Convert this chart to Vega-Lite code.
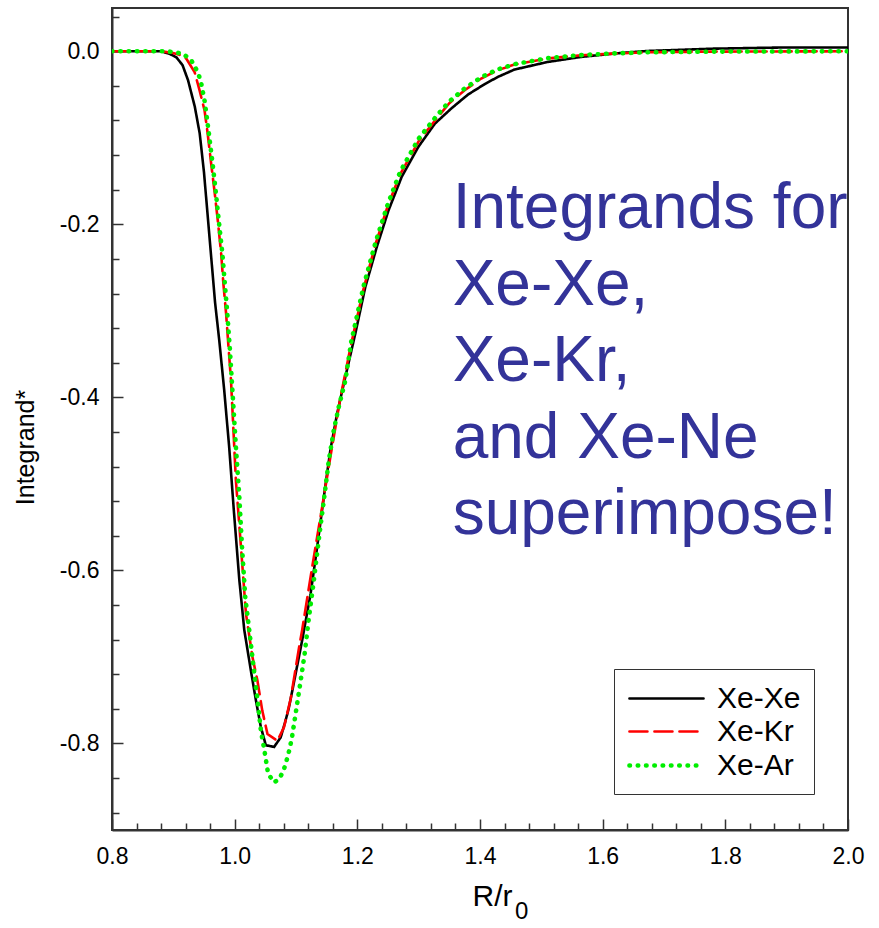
{
  "$schema": "https://vega.github.io/schema/vega-lite/v6.json",
  "width": 736,
  "height": 822,
  "autosize": {"type": "none"},
  "padding": {"left": 112, "top": 8, "right": 31, "bottom": 98},
  "background": "white",
  "config": {
    "font": "Liberation Sans",
    "view": {"stroke": "#333333", "strokeWidth": 2},
    "line": {"strokeCap": "round"},
    "axis": {"grid": false, "domainColor": "#333333", "domainWidth": 2, "tickColor": "#333333", "tickWidth": 1.5, "labelColor": "black", "titleColor": "black", "labelFont": "Liberation Sans", "titleFont": "Liberation Sans", "titleFontWeight": "normal", "labelFlush": false, "labelOverlap": false}
  },
  "datasets": {
    "curves": [
      {"s": "Xe-Xe", "x": 0.80, "y": 0},
      {"s": "Xe-Xe", "x": 0.85, "y": 0},
      {"s": "Xe-Xe", "x": 0.88, "y": 0},
      {"s": "Xe-Xe", "x": 0.894, "y": -0.003},
      {"s": "Xe-Xe", "x": 0.905, "y": -0.007},
      {"s": "Xe-Xe", "x": 0.915, "y": -0.016},
      {"s": "Xe-Xe", "x": 0.924, "y": -0.0335},
      {"s": "Xe-Xe", "x": 0.935, "y": -0.064},
      {"s": "Xe-Xe", "x": 0.943, "y": -0.095},
      {"s": "Xe-Xe", "x": 0.950, "y": -0.140},
      {"s": "Xe-Xe", "x": 0.956, "y": -0.190},
      {"s": "Xe-Xe", "x": 0.962, "y": -0.240},
      {"s": "Xe-Xe", "x": 0.968, "y": -0.290},
      {"s": "Xe-Xe", "x": 0.975, "y": -0.335},
      {"s": "Xe-Xe", "x": 0.983, "y": -0.392},
      {"s": "Xe-Xe", "x": 0.991, "y": -0.457},
      {"s": "Xe-Xe", "x": 0.999, "y": -0.534},
      {"s": "Xe-Xe", "x": 1.0076, "y": -0.611},
      {"s": "Xe-Xe", "x": 1.0157, "y": -0.669},
      {"s": "Xe-Xe", "x": 1.0265, "y": -0.716},
      {"s": "Xe-Xe", "x": 1.0346, "y": -0.750},
      {"s": "Xe-Xe", "x": 1.0427, "y": -0.781},
      {"s": "Xe-Xe", "x": 1.0508, "y": -0.802},
      {"s": "Xe-Xe", "x": 1.0643, "y": -0.804},
      {"s": "Xe-Xe", "x": 1.075, "y": -0.793},
      {"s": "Xe-Xe", "x": 1.082, "y": -0.776},
      {"s": "Xe-Xe", "x": 1.088, "y": -0.760},
      {"s": "Xe-Xe", "x": 1.094, "y": -0.739},
      {"s": "Xe-Xe", "x": 1.110, "y": -0.681},
      {"s": "Xe-Xe", "x": 1.1238, "y": -0.627},
      {"s": "Xe-Xe", "x": 1.1345, "y": -0.573},
      {"s": "Xe-Xe", "x": 1.1454, "y": -0.515},
      {"s": "Xe-Xe", "x": 1.156, "y": -0.461},
      {"s": "Xe-Xe", "x": 1.167, "y": -0.419},
      {"s": "Xe-Xe", "x": 1.178, "y": -0.384},
      {"s": "Xe-Xe", "x": 1.1968, "y": -0.326},
      {"s": "Xe-Xe", "x": 1.213, "y": -0.2725},
      {"s": "Xe-Xe", "x": 1.2318, "y": -0.226},
      {"s": "Xe-Xe", "x": 1.2508, "y": -0.184},
      {"s": "Xe-Xe", "x": 1.2724, "y": -0.145},
      {"s": "Xe-Xe", "x": 1.2994, "y": -0.1106},
      {"s": "Xe-Xe", "x": 1.3265, "y": -0.0836},
      {"s": "Xe-Xe", "x": 1.3534, "y": -0.066},
      {"s": "Xe-Xe", "x": 1.3805, "y": -0.050},
      {"s": "Xe-Xe", "x": 1.4076, "y": -0.038},
      {"s": "Xe-Xe", "x": 1.429, "y": -0.0297},
      {"s": "Xe-Xe", "x": 1.456, "y": -0.0212},
      {"s": "Xe-Xe", "x": 1.510, "y": -0.0124},
      {"s": "Xe-Xe", "x": 1.564, "y": -0.0066},
      {"s": "Xe-Xe", "x": 1.618, "y": -0.0027},
      {"s": "Xe-Xe", "x": 1.672, "y": 0.0003},
      {"s": "Xe-Xe", "x": 1.7805, "y": 0.003},
      {"s": "Xe-Xe", "x": 1.8886, "y": 0.0043},
      {"s": "Xe-Xe", "x": 2.0, "y": 0.0043},

      {"s": "Xe-Kr", "x": 0.80, "y": 0},
      {"s": "Xe-Kr", "x": 0.88, "y": 0},
      {"s": "Xe-Kr", "x": 0.8994, "y": -0.002},
      {"s": "Xe-Kr", "x": 0.910, "y": -0.004},
      {"s": "Xe-Kr", "x": 0.921, "y": -0.0084},
      {"s": "Xe-Kr", "x": 0.9346, "y": -0.0239},
      {"s": "Xe-Kr", "x": 0.9427, "y": -0.045},
      {"s": "Xe-Kr", "x": 0.9508, "y": -0.068},
      {"s": "Xe-Kr", "x": 0.956, "y": -0.095},
      {"s": "Xe-Kr", "x": 0.9617, "y": -0.130},
      {"s": "Xe-Kr", "x": 0.967, "y": -0.161},
      {"s": "Xe-Kr", "x": 0.9724, "y": -0.195},
      {"s": "Xe-Kr", "x": 0.978, "y": -0.234},
      {"s": "Xe-Kr", "x": 0.9816, "y": -0.2686},
      {"s": "Xe-Kr", "x": 0.986, "y": -0.303},
      {"s": "Xe-Kr", "x": 0.990, "y": -0.342},
      {"s": "Xe-Kr", "x": 0.994, "y": -0.380},
      {"s": "Xe-Kr", "x": 0.9967, "y": -0.419},
      {"s": "Xe-Kr", "x": 1.002, "y": -0.496},
      {"s": "Xe-Kr", "x": 1.0103, "y": -0.573},
      {"s": "Xe-Kr", "x": 1.0184, "y": -0.650},
      {"s": "Xe-Kr", "x": 1.029, "y": -0.700},
      {"s": "Xe-Kr", "x": 1.037, "y": -0.727},
      {"s": "Xe-Kr", "x": 1.045, "y": -0.762},
      {"s": "Xe-Kr", "x": 1.0535, "y": -0.789},
      {"s": "Xe-Kr", "x": 1.0697, "y": -0.797},
      {"s": "Xe-Kr", "x": 1.0805, "y": -0.781},
      {"s": "Xe-Kr", "x": 1.0914, "y": -0.748},
      {"s": "Xe-Kr", "x": 1.105, "y": -0.689},
      {"s": "Xe-Kr", "x": 1.110, "y": -0.669},
      {"s": "Xe-Kr", "x": 1.1264, "y": -0.596},
      {"s": "Xe-Kr", "x": 1.1426, "y": -0.527},
      {"s": "Xe-Kr", "x": 1.156, "y": -0.469},
      {"s": "Xe-Kr", "x": 1.1725, "y": -0.400},
      {"s": "Xe-Kr", "x": 1.19, "y": -0.338},
      {"s": "Xe-Kr", "x": 1.21, "y": -0.275},
      {"s": "Xe-Kr", "x": 1.23, "y": -0.222},
      {"s": "Xe-Kr", "x": 1.25, "y": -0.178},
      {"s": "Xe-Kr", "x": 1.27, "y": -0.142},
      {"s": "Xe-Kr", "x": 1.30, "y": -0.104},
      {"s": "Xe-Kr", "x": 1.33, "y": -0.077},
      {"s": "Xe-Kr", "x": 1.35, "y": -0.060},
      {"s": "Xe-Kr", "x": 1.375, "y": -0.0451},
      {"s": "Xe-Kr", "x": 1.402, "y": -0.0315},
      {"s": "Xe-Kr", "x": 1.429, "y": -0.0219},
      {"s": "Xe-Kr", "x": 1.456, "y": -0.0154},
      {"s": "Xe-Kr", "x": 1.510, "y": -0.0084},
      {"s": "Xe-Kr", "x": 1.564, "y": -0.0046},
      {"s": "Xe-Kr", "x": 1.618, "y": -0.0027},
      {"s": "Xe-Kr", "x": 1.672, "y": -0.0012},
      {"s": "Xe-Kr", "x": 1.78, "y": -0.0004},
      {"s": "Xe-Kr", "x": 2.0, "y": 0},

      {"s": "Xe-Ar", "x": 0.80, "y": 0},
      {"s": "Xe-Ar", "x": 0.89, "y": 0},
      {"s": "Xe-Ar", "x": 0.9156, "y": -0.0027},
      {"s": "Xe-Ar", "x": 0.9292, "y": -0.0104},
      {"s": "Xe-Ar", "x": 0.936, "y": -0.0188},
      {"s": "Xe-Ar", "x": 0.9416, "y": -0.0277},
      {"s": "Xe-Ar", "x": 0.9455, "y": -0.0373},
      {"s": "Xe-Ar", "x": 0.9508, "y": -0.0566},
      {"s": "Xe-Ar", "x": 0.9545, "y": -0.076},
      {"s": "Xe-Ar", "x": 0.958, "y": -0.095},
      {"s": "Xe-Ar", "x": 0.964, "y": -0.130},
      {"s": "Xe-Ar", "x": 0.969, "y": -0.161},
      {"s": "Xe-Ar", "x": 0.974, "y": -0.195},
      {"s": "Xe-Ar", "x": 0.980, "y": -0.234},
      {"s": "Xe-Ar", "x": 0.984, "y": -0.269},
      {"s": "Xe-Ar", "x": 0.988, "y": -0.303},
      {"s": "Xe-Ar", "x": 0.992, "y": -0.342},
      {"s": "Xe-Ar", "x": 0.9967, "y": -0.396},
      {"s": "Xe-Ar", "x": 1.002, "y": -0.457},
      {"s": "Xe-Ar", "x": 1.0076, "y": -0.515},
      {"s": "Xe-Ar", "x": 1.012, "y": -0.573},
      {"s": "Xe-Ar", "x": 1.0173, "y": -0.631},
      {"s": "Xe-Ar", "x": 1.0238, "y": -0.669},
      {"s": "Xe-Ar", "x": 1.032, "y": -0.719},
      {"s": "Xe-Ar", "x": 1.0373, "y": -0.750},
      {"s": "Xe-Ar", "x": 1.0427, "y": -0.785},
      {"s": "Xe-Ar", "x": 1.048, "y": -0.806},
      {"s": "Xe-Ar", "x": 1.0546, "y": -0.835},
      {"s": "Xe-Ar", "x": 1.0643, "y": -0.845},
      {"s": "Xe-Ar", "x": 1.0724, "y": -0.841},
      {"s": "Xe-Ar", "x": 1.0794, "y": -0.832},
      {"s": "Xe-Ar", "x": 1.087, "y": -0.814},
      {"s": "Xe-Ar", "x": 1.093, "y": -0.795},
      {"s": "Xe-Ar", "x": 1.098, "y": -0.772},
      {"s": "Xe-Ar", "x": 1.106, "y": -0.735},
      {"s": "Xe-Ar", "x": 1.114, "y": -0.697},
      {"s": "Xe-Ar", "x": 1.121, "y": -0.655},
      {"s": "Xe-Ar", "x": 1.129, "y": -0.612},
      {"s": "Xe-Ar", "x": 1.137, "y": -0.565},
      {"s": "Xe-Ar", "x": 1.1454, "y": -0.519},
      {"s": "Xe-Ar", "x": 1.1535, "y": -0.473},
      {"s": "Xe-Ar", "x": 1.1616, "y": -0.438},
      {"s": "Xe-Ar", "x": 1.1697, "y": -0.411},
      {"s": "Xe-Ar", "x": 1.1806, "y": -0.380},
      {"s": "Xe-Ar", "x": 1.19, "y": -0.336},
      {"s": "Xe-Ar", "x": 1.21, "y": -0.272},
      {"s": "Xe-Ar", "x": 1.23, "y": -0.220},
      {"s": "Xe-Ar", "x": 1.25, "y": -0.176},
      {"s": "Xe-Ar", "x": 1.27, "y": -0.139},
      {"s": "Xe-Ar", "x": 1.30, "y": -0.101},
      {"s": "Xe-Ar", "x": 1.33, "y": -0.074},
      {"s": "Xe-Ar", "x": 1.35, "y": -0.058},
      {"s": "Xe-Ar", "x": 1.375, "y": -0.043},
      {"s": "Xe-Ar", "x": 1.402, "y": -0.030},
      {"s": "Xe-Ar", "x": 1.429, "y": -0.021},
      {"s": "Xe-Ar", "x": 1.456, "y": -0.015},
      {"s": "Xe-Ar", "x": 1.51, "y": -0.008},
      {"s": "Xe-Ar", "x": 1.564, "y": -0.0045},
      {"s": "Xe-Ar", "x": 1.618, "y": -0.0025},
      {"s": "Xe-Ar", "x": 1.672, "y": -0.0012},
      {"s": "Xe-Ar", "x": 1.78, "y": -0.0004},
      {"s": "Xe-Ar", "x": 2.0, "y": 0}
    ]
  },
  "layer": [
    {
      "data": {"name": "curves"},
      "mark": {"type": "line", "strokeCap": "round", "clip": true},
      "encoding": {
        "x": {
          "field": "x", "type": "quantitative",
          "scale": {"domain": [0.8, 2.0], "nice": false, "zero": false},
          "axis": {
            "values": [0.8, 1.0, 1.2, 1.4, 1.6, 1.8, 2.0],
            "format": ".1f",
            "labelFontSize": 23,
            "labelPadding": 26,
            "tickSize": -11,
            "title": "R/r",
            "titleFontSize": 30,
            "titleX": 380,
            "titleY": 75,
            "titleAlign": "center",
            "titleBaseline": "alphabetic"
          }
        },
        "y": {
          "field": "y", "type": "quantitative",
          "scale": {"domain": [-0.9, 0.05], "nice": false, "zero": false},
          "axis": {
            "values": [-0.8, -0.6, -0.4, -0.2, 0],
            "labelExpr": "replace(format(datum.value, '.1f'), '\u2212', '-')",
            "labelFontSize": 23,
            "labelPadding": 24,
            "tickSize": -11,
            "title": "Integrand*",
            "titleFontSize": 25,
            "titleX": -79,
            "titleY": 439,
            "titleAngle": 270,
            "titleAlign": "center",
            "titleBaseline": "alphabetic"
          }
        },
        "color": {
          "field": "s", "type": "ordinal",
          "scale": {"domain": ["Xe-Xe", "Xe-Kr", "Xe-Ar"], "range": ["#000000", "#ff0000", "#00ee00"]},
          "legend": {
            "orient": "none",
            "legendX": 502,
            "legendY": 661,
            "title": null,
            "labelFontSize": 30,
            "labelFont": "Liberation Sans",
            "labelColor": "black",
            "symbolType": "M-2.47,0H2.47",
            "symbolSize": 900,
            "symbolOffset": 22,
            "labelOffset": 33,
            "strokeColor": "#333333",
            "fillColor": "white",
            "padding": 13,
            "rowPadding": 1,
            "encode": {"symbols": {"update": {"strokeCap": {"value": "round"}}}}
          }
        },
        "strokeDash": {
          "field": "s", "type": "ordinal",
          "scale": {"domain": ["Xe-Xe", "Xe-Kr", "Xe-Ar"], "range": [[1, 0], [18, 7], [0.5, 7.8]]}
        },
        "strokeWidth": {
          "field": "s", "type": "ordinal",
          "scale": {"type": "ordinal", "domain": ["Xe-Xe", "Xe-Kr", "Xe-Ar"], "range": [2.6, 2.6, 4.6]}
        },
        "order": {"field": "x", "type": "quantitative"}
      }
    },
    {
      "data": {"values": [{}]},
      "mark": {"type": "text", "align": "left", "baseline": "alphabetic", "fontSize": 64, "color": "#333399", "lineHeight": 76.5, "font": "Liberation Sans"},
      "encoding": {
        "x": {
          "datum": 1.3554, "type": "quantitative",
          "axis": {"values": [0.84, 0.88, 0.92, 0.96, 1.04, 1.08, 1.12, 1.16, 1.24, 1.28, 1.32, 1.36, 1.44, 1.48, 1.52, 1.56, 1.64, 1.68, 1.72, 1.76, 1.84, 1.88, 1.92, 1.96], "labels": false, "tickSize": -7, "domain": false, "title": null, "orient": "bottom"}
        },
        "y": {
          "datum": -0.2043, "type": "quantitative",
          "axis": {"values": [0.04, -0.04, -0.08, -0.12, -0.16, -0.24, -0.28, -0.32, -0.36, -0.44, -0.48, -0.52, -0.56, -0.64, -0.68, -0.72, -0.76, -0.84, -0.88], "labels": false, "tickSize": -7, "domain": false, "title": null, "orient": "left"}
        },
        "text": {"value": ["Integrands for", "Xe-Xe,", "Xe-Kr,", "and Xe-Ne", "superimpose!"]}
      }
    },
    {
      "data": {"values": [{}]},
      "mark": {"type": "text", "align": "left", "baseline": "alphabetic", "fontSize": 24, "color": "black", "dy": 89, "font": "Liberation Sans"},
      "encoding": {
        "x": {"datum": 1.457, "type": "quantitative", "axis": null},
        "y": {"datum": -0.9, "type": "quantitative", "axis": null},
        "text": {"value": "0"}
      }
    }
  ],
  "resolve": {"axis": {"x": "independent", "y": "independent"}}
}
